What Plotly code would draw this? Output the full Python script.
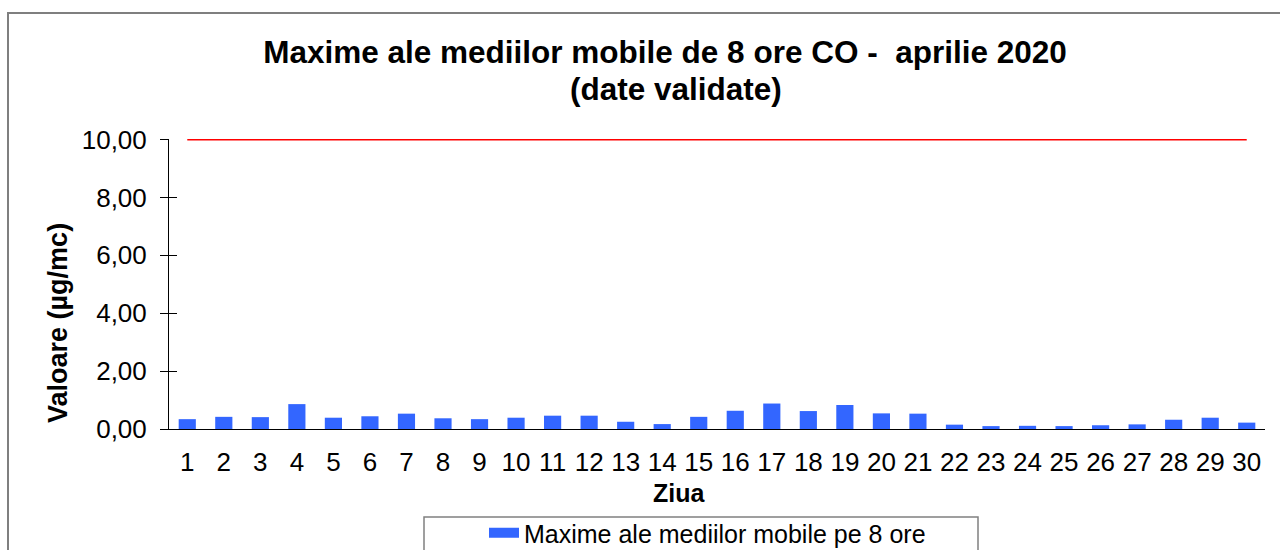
import plotly.graph_objects as go

days = [str(d) for d in range(1, 31)]
max_8h = [0.34, 0.42, 0.41, 0.86, 0.39, 0.44, 0.53, 0.37, 0.34, 0.39,
          0.46, 0.46, 0.25, 0.17, 0.42, 0.63, 0.88, 0.62, 0.83, 0.54,
          0.53, 0.15, 0.10, 0.11, 0.10, 0.13, 0.16, 0.32, 0.39, 0.22]
limit_value = 10.0
y_ticks = [0, 2, 4, 6, 8, 10]
y_tick_labels = ["0,00", "2,00", "4,00", "6,00", "8,00", "10,00"]

title_line1 = "Maxime ale mediilor mobile de 8 ore CO -  aprilie 2020"
title_line2 = "(date validate)"
series_name = "Maxime ale mediilor mobile pe 8 ore"

FONT = "Liberation Sans, Arial, sans-serif"
BAR_COLOR = "#3366FF"

fig = go.Figure()
fig.add_trace(go.Bar(
    x=days, y=max_8h, name=series_name,
    marker=dict(color=BAR_COLOR, line=dict(width=0)),
    showlegend=False,
))
# legend entry for the bar series (wide rectangular swatch)
fig.add_trace(go.Scatter(
    x=[None], y=[None], mode="lines", name=series_name,
    line=dict(color=BAR_COLOR, width=15), showlegend=True, hoverinfo="skip",
))
# limit value line (on overlay axis that also carries the inner tick halves)
fig.add_trace(go.Scatter(
    x=[days[0], days[-1]], y=[limit_value, limit_value], yaxis="y2",
    mode="lines", line=dict(color="#FF0000", width=2),
    showlegend=False, hoverinfo="skip",
))

L, R, T, B = 169, 15, 139, 121
W, H = 1280, 550
pw = W - L - R
ph = H - T - B
Y_TOP = 10.02


def px_x(p):
    return (p - L) / pw


def px_y(p):
    return (H - B - p) / ph


fig.update_layout(
    width=W, height=H,
    margin=dict(l=L, r=R, t=T, b=B, pad=0, autoexpand=False),
    paper_bgcolor="white", plot_bgcolor="white",
    font=dict(family=FONT, size=26, color="black"),
    bargap=0.53,
    title=dict(text="<b>" + title_line1 + "</b>", x=665 / W, xref="container", xanchor="center",
               y=1 - 52 / H, yref="container", yanchor="middle",
               font=dict(family=FONT, size=31.5, color="black")),
    xaxis=dict(type="category", range=[-0.5, 29.5], showgrid=False, showline=True,
               linecolor="black", linewidth=1, ticks="", ticklabelstandoff=10,
               tickfont=dict(size=26), zeroline=False),
    yaxis=dict(range=[0, Y_TOP], tickvals=y_ticks, ticktext=y_tick_labels,
               showgrid=False, showline=True, linecolor="black", linewidth=1,
               ticks="outside", ticklen=8, tickcolor="black", tickwidth=1,
               ticklabelstandoff=8, tickfont=dict(size=26), zeroline=False),
    yaxis2=dict(range=[0, Y_TOP], tickvals=y_ticks, overlaying="y", side="left",
                showticklabels=False, showgrid=False, showline=False,
                ticks="inside", ticklen=8, tickcolor="black", tickwidth=1,
                zeroline=False),
    showlegend=True,
    legend=dict(orientation="h", x=px_x(484), y=px_y(510), xanchor="left", yanchor="top",
                borderwidth=0, bgcolor="rgba(0,0,0,0)",
                font=dict(family=FONT, size=25)),
    annotations=[
        dict(text="<b>" + title_line2 + "</b>", x=px_x(676), y=px_y(89),
             xref="paper", yref="paper", showarrow=False,
             font=dict(family=FONT, size=31.5), xanchor="center", yanchor="middle"),
        dict(text="<b>Valoare (µg/mc)</b>", textangle=-90, x=px_x(58), y=px_y(323),
             xref="paper", yref="paper", showarrow=False,
             font=dict(family=FONT, size=27), xanchor="center", yanchor="middle"),
        dict(text="<b>Ziua</b>", x=px_x(679), y=px_y(493),
             xref="paper", yref="paper", showarrow=False,
             font=dict(family=FONT, size=25), xanchor="center", yanchor="middle"),
    ],
    shapes=[
        dict(type="rect", xref="paper", yref="paper",
             x0=px_x(8), x1=px_x(1300), y0=px_y(570), y1=px_y(13),
             line=dict(color="#7F7F7F", width=2), fillcolor="rgba(0,0,0,0)", layer="below"),
        dict(type="rect", xref="paper", yref="paper",
             x0=px_x(424), x1=px_x(978), y0=px_y(570), y1=px_y(517),
             line=dict(color="#808080", width=1.5), fillcolor="rgba(0,0,0,0)", layer="below"),
    ],
)

fig.write_html("out.html", config={"displayModeBar": False},
               post_script="document.body.style.margin='0';")
